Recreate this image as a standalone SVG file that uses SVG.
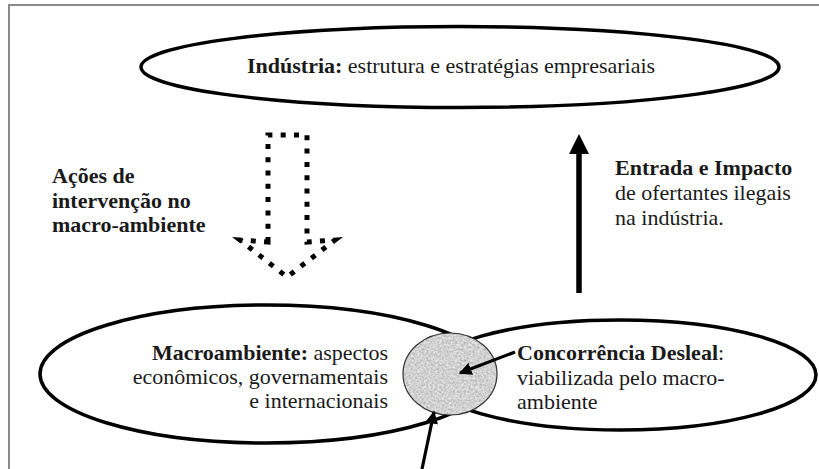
<svg xmlns="http://www.w3.org/2000/svg" width="819" height="469" viewBox="0 0 819 469">
<style>
.ell{fill:none;stroke:#000;stroke-width:3.5}
.t{font-family:'Liberation Serif','DejaVu Serif',serif;fill:#1a1a1a;font-size:22px}
.b{font-weight:bold}
.con{stroke:#000;fill:none}
</style>
<defs>
<filter id="noise" x="0" y="0" width="100%" height="100%">
<feTurbulence type="fractalNoise" baseFrequency="0.45" numOctaves="2" seed="7" result="n"/>
<feColorMatrix in="n" type="matrix" values="0.6 0 0 0 0.34  0.6 0 0 0 0.34  0.6 0 0 0 0.34  0 0 0 0 1" result="g"/>
<feComposite in="g" in2="SourceGraphic" operator="in"/>
</filter>
<marker id="ah" viewBox="0 0 10 10" refX="9" refY="5" markerWidth="4" markerHeight="4" orient="auto" markerUnits="strokeWidth">
<path d="M0,0 L10,5 L0,10 Z" fill="#000"/>
</marker>
</defs>
<rect width="819" height="469" fill="#fff"/>
<path d="M9,469 V5 H819" fill="none" stroke="#8a8a8a" stroke-width="2"/>

<g id="industria">
<ellipse class="ell" cx="460" cy="67" rx="319" ry="40.5"/>
<text class="t" x="247" y="73"><tspan class="b">Indústria:</tspan> estrutura e estratégias empresariais</text>
</g>

<g id="acoes-label">
<text class="t b" x="52" y="183">Ações de</text>
<text class="t b" x="52" y="208">intervenção no</text>
<text class="t b" x="52" y="232">macro-ambiente</text>
</g>

<g id="entrada-label">
<text class="t" x="615" y="175"><tspan class="b">Entrada e Impacto</tspan></text>
<text class="t" x="615" y="200">de ofertantes ilegais</text>
<text class="t" x="615" y="225">na indústria.</text>
</g>

<g id="macroambiente">
<ellipse class="ell" cx="266" cy="374" rx="226" ry="69"/>
<text class="t" x="388" y="360" text-anchor="end"><tspan class="b">Macroambiente:</tspan> aspectos</text>
<text class="t" x="388" y="384" text-anchor="end">econômicos, governamentais</text>
<text class="t" x="388" y="408" text-anchor="end">e internacionais</text>
</g>

<g id="concorrencia">
<ellipse class="ell" cx="620" cy="375" rx="196" ry="55"/>
<text class="t" x="517" y="360"><tspan class="b">Concorrência Desleal</tspan>:</text>
<text class="t" x="517" y="385">viabilizada pelo macro-</text>
<text class="t" x="517" y="409">ambiente</text>
</g>

<g id="intersecao">
<ellipse cx="450" cy="374" rx="47" ry="41" fill="#a6a6a6" filter="url(#noise)"/>
<ellipse cx="450" cy="374" rx="47" ry="41" fill="none" stroke="#333" stroke-width="1.2"/>
</g>

<g id="connectors">
<path class="con" d="M268,242 V135 H307 V242 L335,240 L287,277 L240,240 L268,242 Z" stroke-width="5" stroke-dasharray="5 8.3" stroke-linejoin="miter"/>
<line class="con" x1="579" y1="293" x2="579" y2="152" stroke-width="5.5"/>
<path d="M569,154 L579,134 L589,154 Z" fill="#000"/>
<line class="con" x1="515" y1="352" x2="460" y2="373" stroke-width="3.2" marker-end="url(#ah)"/>
<line class="con" x1="422" y1="469" x2="434" y2="412" stroke-width="3.2" marker-end="url(#ah)"/>
</g>
</svg>
